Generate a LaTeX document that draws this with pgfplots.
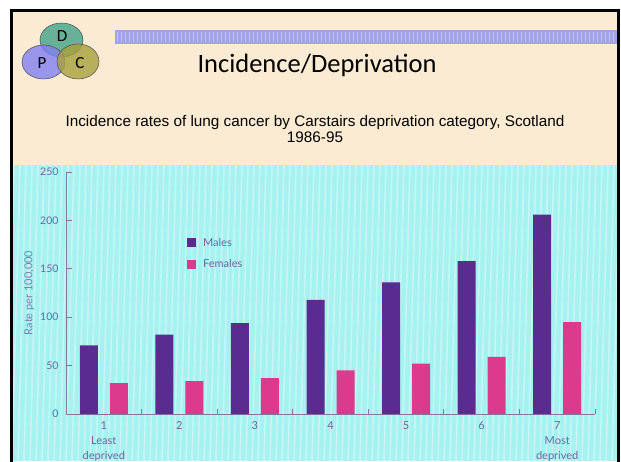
\documentclass[border=0pt]{standalone}
\usepackage{fontspec}
\setmainfont{Carlito}
\newfontfamily\arialf{Liberation Sans}
\newfontfamily\gill{Lato}
\usepackage{pgfplots}
\pgfplotsset{compat=1.18}
\definecolor{beige}{HTML}{FBEBD2}
\definecolor{cyanbg}{HTML}{A6F2F0}
\definecolor{barblue}{HTML}{A2A2EC}
\definecolor{males}{HTML}{5A2C90}
\definecolor{females}{HTML}{DC3A8C}
\definecolor{axisink}{HTML}{7E7AA6}
\definecolor{labink}{HTML}{6E64A0}
\definecolor{circD}{HTML}{4FA890}
\definecolor{circP}{HTML}{8080F0}
\definecolor{circC}{HTML}{A8A03C}

\begin{document}
\begin{tikzpicture}[x=1pt,y=1pt]
\useasboundingbox (0,0) rectangle (621,461);
\clip (0,0) rectangle (621,461);
\fill[white] (0,0) rectangle (621,461);
% slide background
\fill[beige] (11,0) rectangle (619,451);
\fill[cyanbg] (11,0) rectangle (619,296);
\begin{scope}
\clip (11,0) rectangle (619,296);
\foreach \i in {0,6,...,640} {
  \draw[white, opacity=0.35, line width=1.6pt] (\i,0) -- (\i+8,296);
}
\end{scope}
\draw[black, line width=3pt] (11.5,-2) -- (11.5,450.5) -- (618.5,450.5) -- (618.5,-2);
% pattern bar
\fill[barblue] (115,417) rectangle (617,431);
\foreach \i in {117,121,...,615} {
  \fill[white, opacity=0.35] (\i,419) rectangle (\i+1.2,429);
}
% logo
\draw[fill=circD, fill opacity=0.85, draw=black!70, line width=0.5pt] (61.5,421) ellipse (21.5 and 17);
\draw[fill=circP, fill opacity=0.8, draw=black!70, line width=0.5pt] (43.5,399) ellipse (21.5 and 17);
\draw[fill=circC, fill opacity=0.8, draw=black!70, line width=0.5pt] (78,399.5) ellipse (21 and 17.5);
\node[font=\fontsize{17}{17}\selectfont] at (62,425) {D};
\node[font=\fontsize{17}{17}\selectfont] at (42,398) {P};
\node[font=\fontsize{17}{17}\selectfont] at (80,398) {C};
% titles
\node[font=\fontsize{26.5}{26.5}\selectfont] at (317,396) {Incidence/Deprivation};
\node[font=\arialf\fontsize{15.3}{16}\selectfont, align=center] at (315,332)
  {Incidence rates of lung cancer by Carstairs deprivation category, Scotland\\1986-95};

\begin{axis}[
  at={(66pt,47pt)}, anchor=south west,
  scale only axis,
  width=529pt, height=242pt,
  ybar=12pt, bar width=18pt,
  xmin=0.5, xmax=7.5,
  ymin=0, ymax=250,
  xtick={1,2,3,4,5,6,7},
  xticklabels={{1\\Least\\deprived},2,3,4,5,6,{7\\Most\\deprived}},
  x tick label style={align=center, font=\gill\fontsize{11}{15}\selectfont, text=labink, yshift=-4pt},
  ytick={0,50,100,150,200,250},
  y tick label style={font=\gill\fontsize{10.5}{10.5}\selectfont, text=labink, xshift=-4pt},
  /pgf/number format/assume math mode=true,
  axis lines*=left,
  axis line style={-, draw=axisink, line width=0.8pt},
  xtick style={draw=none},
  ytick style={draw=axisink, line width=0.8pt},
  tick align=inside,
  major tick length=6pt,
  extra x ticks={1.5,2.5,3.5,4.5,5.5,6.5,7.5},
  extra x tick labels={},
  extra x tick style={xtick style={draw=axisink, line width=0.8pt}, major tick length=5pt},
  ylabel={Rate per 100,000},
  ylabel style={font=\gill\fontsize{11}{11}\selectfont, text=labink!85, yshift=-1pt},
  legend cell align=left,
  legend style={draw=none, fill=none, at={(axis cs:2.06,186)}, anchor=north west,
    font=\gill\fontsize{11}{11}\selectfont, text=labink, row sep=8pt},
  legend image code/.code={\fill[#1] (0pt,-4.5pt) rectangle (9pt,4.5pt); \path (14pt,0pt);},
]
\addplot[fill=males, draw=none] coordinates {(1,71) (2,82) (3,94) (4,118) (5,136) (6,158) (7,206)};
\addplot[fill=females, draw=none] coordinates {(1,32) (2,34) (3,37) (4,45) (5,52) (6,59) (7,95)};
\legend{Males, Females}
\end{axis}
\end{tikzpicture}
\end{document}
